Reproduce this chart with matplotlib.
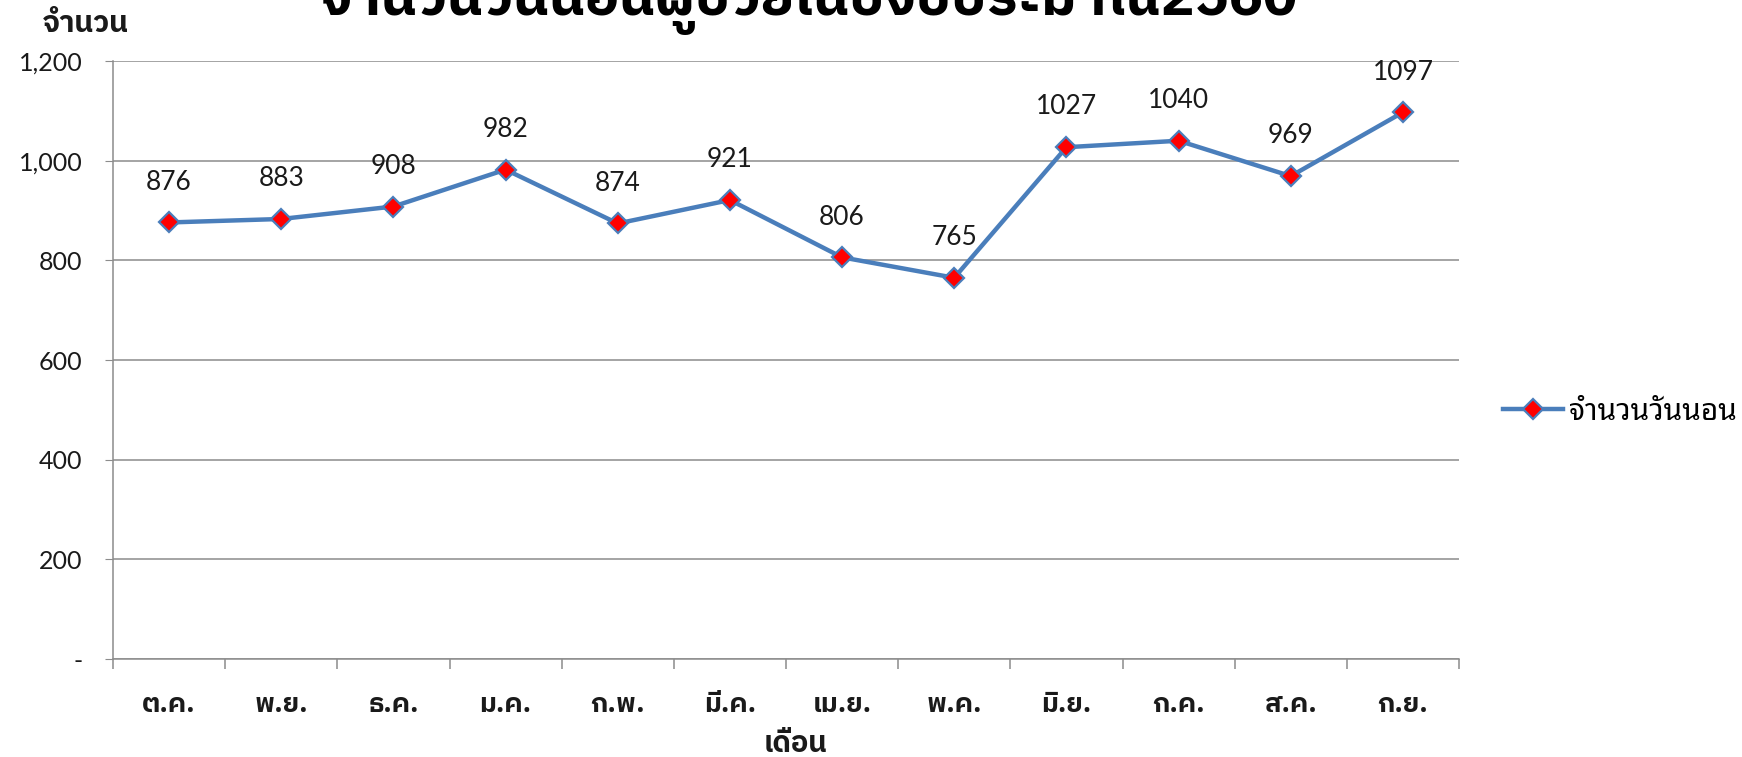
import matplotlib
matplotlib.use("Agg")
import matplotlib.pyplot as plt
from matplotlib.ticker import FuncFormatter

# data: inpatient days per month, fiscal year 2560
months = ["ต.ค.", "พ.ย.", "ธ.ค.", "ม.ค.", "ก.พ.", "มี.ค.",
          "เม.ย.", "พ.ค.", "มิ.ย.", "ก.ค.", "ส.ค.", "ก.ย."]
bed_days = [876, 883, 908, 982, 874, 921, 806, 765, 1027, 1040, 969, 1097]
y_ticks = [0, 200, 400, 600, 800, 1000, 1200]

title = "จำนวนวันนอนผู้ป่วยในปีงบประมาณ2560"
series_name = "จำนวนวันนอน"
x_label = "เดือน"
y_label = "จำนวน"

thai_bold = ["IBM Plex Sans Thai", "Noto Sans"]
thai_loop = ["Noto Sans Thai Looped", "Noto Sans"]
num_font = ["Lato", "DejaVu Sans"]

line_col = "#4A7EBB"
grid_col = "#8C8C8C"
txt_col = "#1A1A1A"

W, H = 1742, 757
fig = plt.figure(figsize=(W / 100, H / 100), dpi=100)
ax = fig.add_axes([113 / W, 1 - 659 / H, (1459 - 113) / W, (659 - 61) / H])

x = [i + 0.5 for i in range(len(months))]
line, = ax.plot(x, bed_days, color=line_col, lw=3.2, marker="D", ms=10,
                mfc="#FF0000", mec=line_col, mew=1.6, solid_joinstyle="miter",
                label=series_name, zorder=3)

# data labels above points
for xi, v in zip(x, bed_days):
    ax.annotate(str(v), (xi, v), xytext=(0, 29), textcoords="offset points",
                ha="center", va="center", fontsize=19, family=num_font,
                color=txt_col)

ax.set_xlim(0, len(months))
ax.set_ylim(0, 1200)

# y axis
ax.set_yticks(y_ticks)
ax.yaxis.set_major_formatter(FuncFormatter(lambda v, p: "-" if v == 0 else f"{int(v):,}"))
ax.tick_params(axis="y", length=6, color=grid_col, pad=16, labelsize=18,
               labelcolor=txt_col)
for t in ax.get_yticklabels():
    t.set_family(num_font)
ax.grid(axis="y", color=grid_col, lw=1.1)
ax.set_axisbelow(True)

# x axis: ticks on category boundaries, labels at centres
ax.set_xticks(range(len(months) + 1))
ax.set_xticklabels([])
ax.set_xticks(x, minor=True)
ax.set_xticklabels(months, minor=True, fontsize=19.5, fontweight="bold",
                   family=thai_bold, color=txt_col)
ax.tick_params(axis="x", which="major", length=7.5, color=grid_col, width=1.1)
ax.tick_params(axis="x", which="minor", length=0, pad=23)

for s in ["top", "right"]:
    ax.spines[s].set_visible(False)
for s in ["left", "bottom"]:
    ax.spines[s].set_color(grid_col)
    ax.spines[s].set_linewidth(1.1)

# labels and title
fig.text(795 / W, 1 - 744 / H, x_label, ha="center", va="center", fontsize=21,
         fontweight="bold", family=thai_bold, color=txt_col)
fig.text(86 / W, 1 - 24 / H, y_label, ha="center", va="center", fontsize=21.5,
         fontweight="bold", family=thai_bold, color=txt_col)
fig.text(809 / W, 1 - 15 / H, title, ha="center", va="baseline", fontsize=41,
         fontweight="bold", family=thai_bold, color="black")

fig.legend(handles=[line], loc="center left", bbox_to_anchor=(1503 / W, 1 - 412 / H),
           frameon=False, prop={"family": thai_loop, "size": 21.5},
           handlelength=2.0, handletextpad=0.2, borderpad=0, borderaxespad=0)

fig.savefig("out.png", dpi=100)
